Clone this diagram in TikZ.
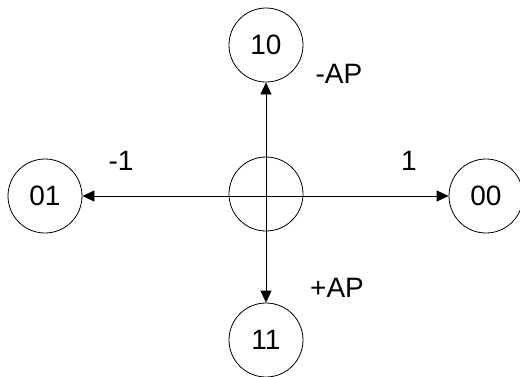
\documentclass[tikz,border=0pt]{standalone}
\usepackage{fontspec}
\setmainfont{Liberation Sans}
\usetikzlibrary{arrows.meta}
\begin{document}
\begin{tikzpicture}[x=1pt,y=-1pt,
  state/.style={circle,draw,line width=0.8pt,minimum size=74pt,inner sep=0pt,font=\fontsize{28}{32}\selectfont},
  link/.style={line width=0.8pt,{Triangle[length=12pt,width=11pt]}-{Triangle[length=12pt,width=11pt]}},
  lab/.style={inner sep=0pt,font=\fontsize{28}{32}\selectfont}]
\useasboundingbox (0,0) rectangle (520,376);
\node[state] (c) at (266,194) {};
\node[state] (t) at (266,45) {10};
\node[state] (b) at (266,340) {11};
\node[state] (l) at (45,196) {01};
\node[state] (r) at (486,196) {00};
\draw[link] (l) -- (r);
\draw[link] (t) -- (b);
\node[lab] (lt) at (339,74) {-AP};
\node[lab] (lb) at (337,288) {+AP};
\node[lab] (ll) at (121,161) {-1};
\node[lab] (lr) at (409,161) {1};
\end{tikzpicture}
\end{document}
